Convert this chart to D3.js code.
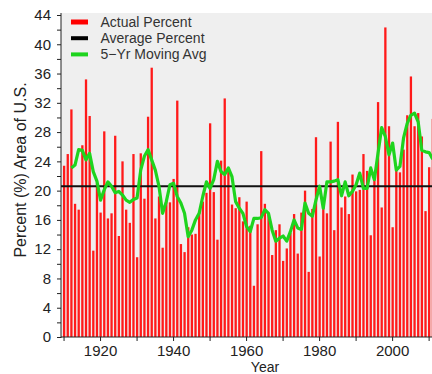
<!DOCTYPE html>
<html>
<head>
<meta charset="utf-8">
<script src="https://cdn.jsdelivr.net/npm/d3@7"></script>
<style>
  body { margin: 0; background: #fff; }
  svg { display: block; font-family: "Liberation Sans", Arial, sans-serif; }
</style>
</head>
<body>
<svg id="chart" width="432" height="374"></svg>
<script>
// years shown on the chart (the plot is cut at the right edge)
const years = d3.range(1910, 2012);

// actual percent area, one per year
const actualPercent = [
  23.4, 25.0, 31.1, 18.2, 17.4, 26.2, 35.2, 30.2, 11.8, 21.0,
  17.0, 28.1, 16.2, 16.9, 27.5, 13.8, 24.0, 17.4, 15.6, 25.0,
  10.9, 25.1, 18.9, 30.1, 36.8, 16.2, 19.2, 12.2, 18.6, 18.4,
  21.6, 32.3, 12.7, 11.6, 15.0, 14.0, 14.1, 17.0, 18.5, 19.7,
  29.2, 19.8, 13.3, 24.1, 32.6, 23.0, 18.1, 17.6, 19.1, 15.8,
  18.5, 15.2, 7.0, 15.4, 25.4, 18.2, 16.8, 11.2, 14.6, 15.4,
  10.4, 12.1, 14.2, 16.8, 11.4, 17.0, 20.0, 8.9, 17.5, 27.3,
  11.0, 18.4, 16.9, 26.7, 14.6, 29.4, 17.7, 19.2, 16.8, 22.2,
  19.9, 20.1, 25.0, 22.7, 13.9, 21.5, 32.1, 17.7, 42.3, 28.8,
  15.0, 23.0, 22.5, 25.6, 30.3, 35.6, 28.8, 30.6, 27.4, 17.2,
  23.2, 29.8
];

// 5-yr moving average (starts 1912)
const movingAvgStart = 1912;
const movingAvg = [
  23.1, 23.5, 25.6, 25.5, 24.2, 25.1, 22.6, 21.3, 18.7, 20.1,
  21.2, 20.6, 19.7, 19.9, 19.4, 18.7, 18.4, 18.8, 19.0, 22.8,
  24.7, 25.6, 24.2, 22.8, 20.6, 16.9, 18.5, 20.8, 21.0, 19.2,
  18.3, 16.9, 13.7, 14.6, 16.0, 16.9, 19.2, 21.2, 20.3, 21.5,
  24.0, 22.6, 22.2, 23.1, 21.9, 18.5, 17.6, 16.9, 15.1, 14.4,
  16.2, 16.2, 16.3, 17.4, 16.9, 14.6, 13.1, 13.5, 13.8, 13.1,
  14.4, 16.0, 14.9, 14.7, 18.3, 16.9, 16.5, 18.7, 20.6, 17.6,
  21.2, 21.2, 21.3, 21.5, 19.3, 21.2, 19.3, 19.9, 20.8, 22.4,
  20.3, 20.3, 23.1, 21.5, 25.1, 28.6, 27.4, 24.9, 26.5, 22.8,
  23.3, 27.2, 29.2, 30.3, 30.6, 29.4, 25.5, 25.3, 25.2, 24.3
];

const averagePercent = 20.6;

const yTicks = d3.range(0, 45, 2);
const xTicks = d3.range(1910, 2011, 10);
const legendItems = [
  { label: 'Actual Percent', color: '#ff0000', width: 5 },
  { label: 'Average Percent', color: '#000000', width: 4 },
  { label: '5\u2212Yr Moving Avg', color: '#1ed41e', width: 4 }
];

const svg = d3.select('#chart');
const plot = { left: 61, top: 13, bottom: 337, right: 440 };

const x = d3.scaleLinear()
  .domain([1909.3, 2011.2])
  .range([61, 433]);
const y = d3.scaleLinear()
  .domain([0, 44])
  .range([337, 15]);

// plot background
svg.append('rect')
  .attr('x', plot.left)
  .attr('y', plot.top)
  .attr('width', plot.right - plot.left)
  .attr('height', plot.bottom - plot.top)
  .attr('fill', '#efefef');

// bars
svg.append('g')
  .selectAll('rect')
  .data(actualPercent)
  .enter()
  .append('rect')
  .attr('x', (d, i) => x(years[i]) - 0.6)
  .attr('width', 2.3)
  .attr('y', d => y(d))
  .attr('height', d => y(0) - y(d))
  .attr('fill', '#ff1a1a');

// average line
svg.append('line')
  .attr('x1', plot.left)
  .attr('x2', plot.right)
  .attr('y1', y(averagePercent))
  .attr('y2', y(averagePercent))
  .attr('stroke', '#111')
  .attr('stroke-width', 2);

// moving average
const line = d3.line()
  .x((d, i) => x(movingAvgStart + i) + 0.5)
  .y(d => y(d));
svg.append('path')
  .datum(movingAvg)
  .attr('d', line)
  .attr('fill', 'none')
  .attr('stroke', '#1ed41e')
  .attr('stroke-width', 3.2)
  .attr('stroke-linejoin', 'round');

// axes
const yAxis = svg.append('g')
  .attr('transform', `translate(${plot.left},0)`)
  .call(d3.axisLeft(y)
    .tickValues(yTicks)
    .tickSize(4)
    .tickPadding(6)
    .tickFormat(d => d % 4 === 0 ? d : ''));
yAxis.select('.domain').attr('d', `M-0,${plot.top}V${plot.bottom + 1}`);

const xAxis = svg.append('g')
  .attr('transform', `translate(0,${plot.bottom})`)
  .call(d3.axisBottom(x)
    .tickValues(xTicks)
    .tickSize(4)
    .tickPadding(4)
    .tickFormat(d => d % 20 === 0 ? d : ''));
xAxis.select('.domain').attr('d', `M${plot.left},0H${plot.right}`);

svg.selectAll('.tick text')
  .attr('font-size', 15)
  .attr('fill', '#222')
  .attr('font-family', '"Liberation Sans", Arial, sans-serif');
svg.selectAll('.domain, .tick line')
  .attr('stroke', '#222');

// axis titles
svg.append('text')
  .attr('x', 265)
  .attr('y', 372)
  .attr('text-anchor', 'middle')
  .attr('font-size', 14)
  .attr('fill', '#222')
  .text('Year');

svg.append('text')
  .attr('transform', 'translate(26,170) rotate(-90)')
  .attr('text-anchor', 'middle')
  .attr('font-size', 16)
  .attr('fill', '#222')
  .text('Percent (%) Area of U.S.');

// legend
const legend = svg.append('g');
legendItems.forEach((item, i) => {
  const cy = 22 + i * 16.2;
  legend.append('line')
    .attr('x1', 71).attr('x2', 88)
    .attr('y1', cy).attr('y2', cy)
    .attr('stroke', item.color)
    .attr('stroke-width', item.width);
  legend.append('text')
    .attr('x', 100.5)
    .attr('y', cy + 5)
    .attr('font-size', 14)
    .attr('fill', '#333')
    .text(item.label);
});
</script>
</body>
</html>
